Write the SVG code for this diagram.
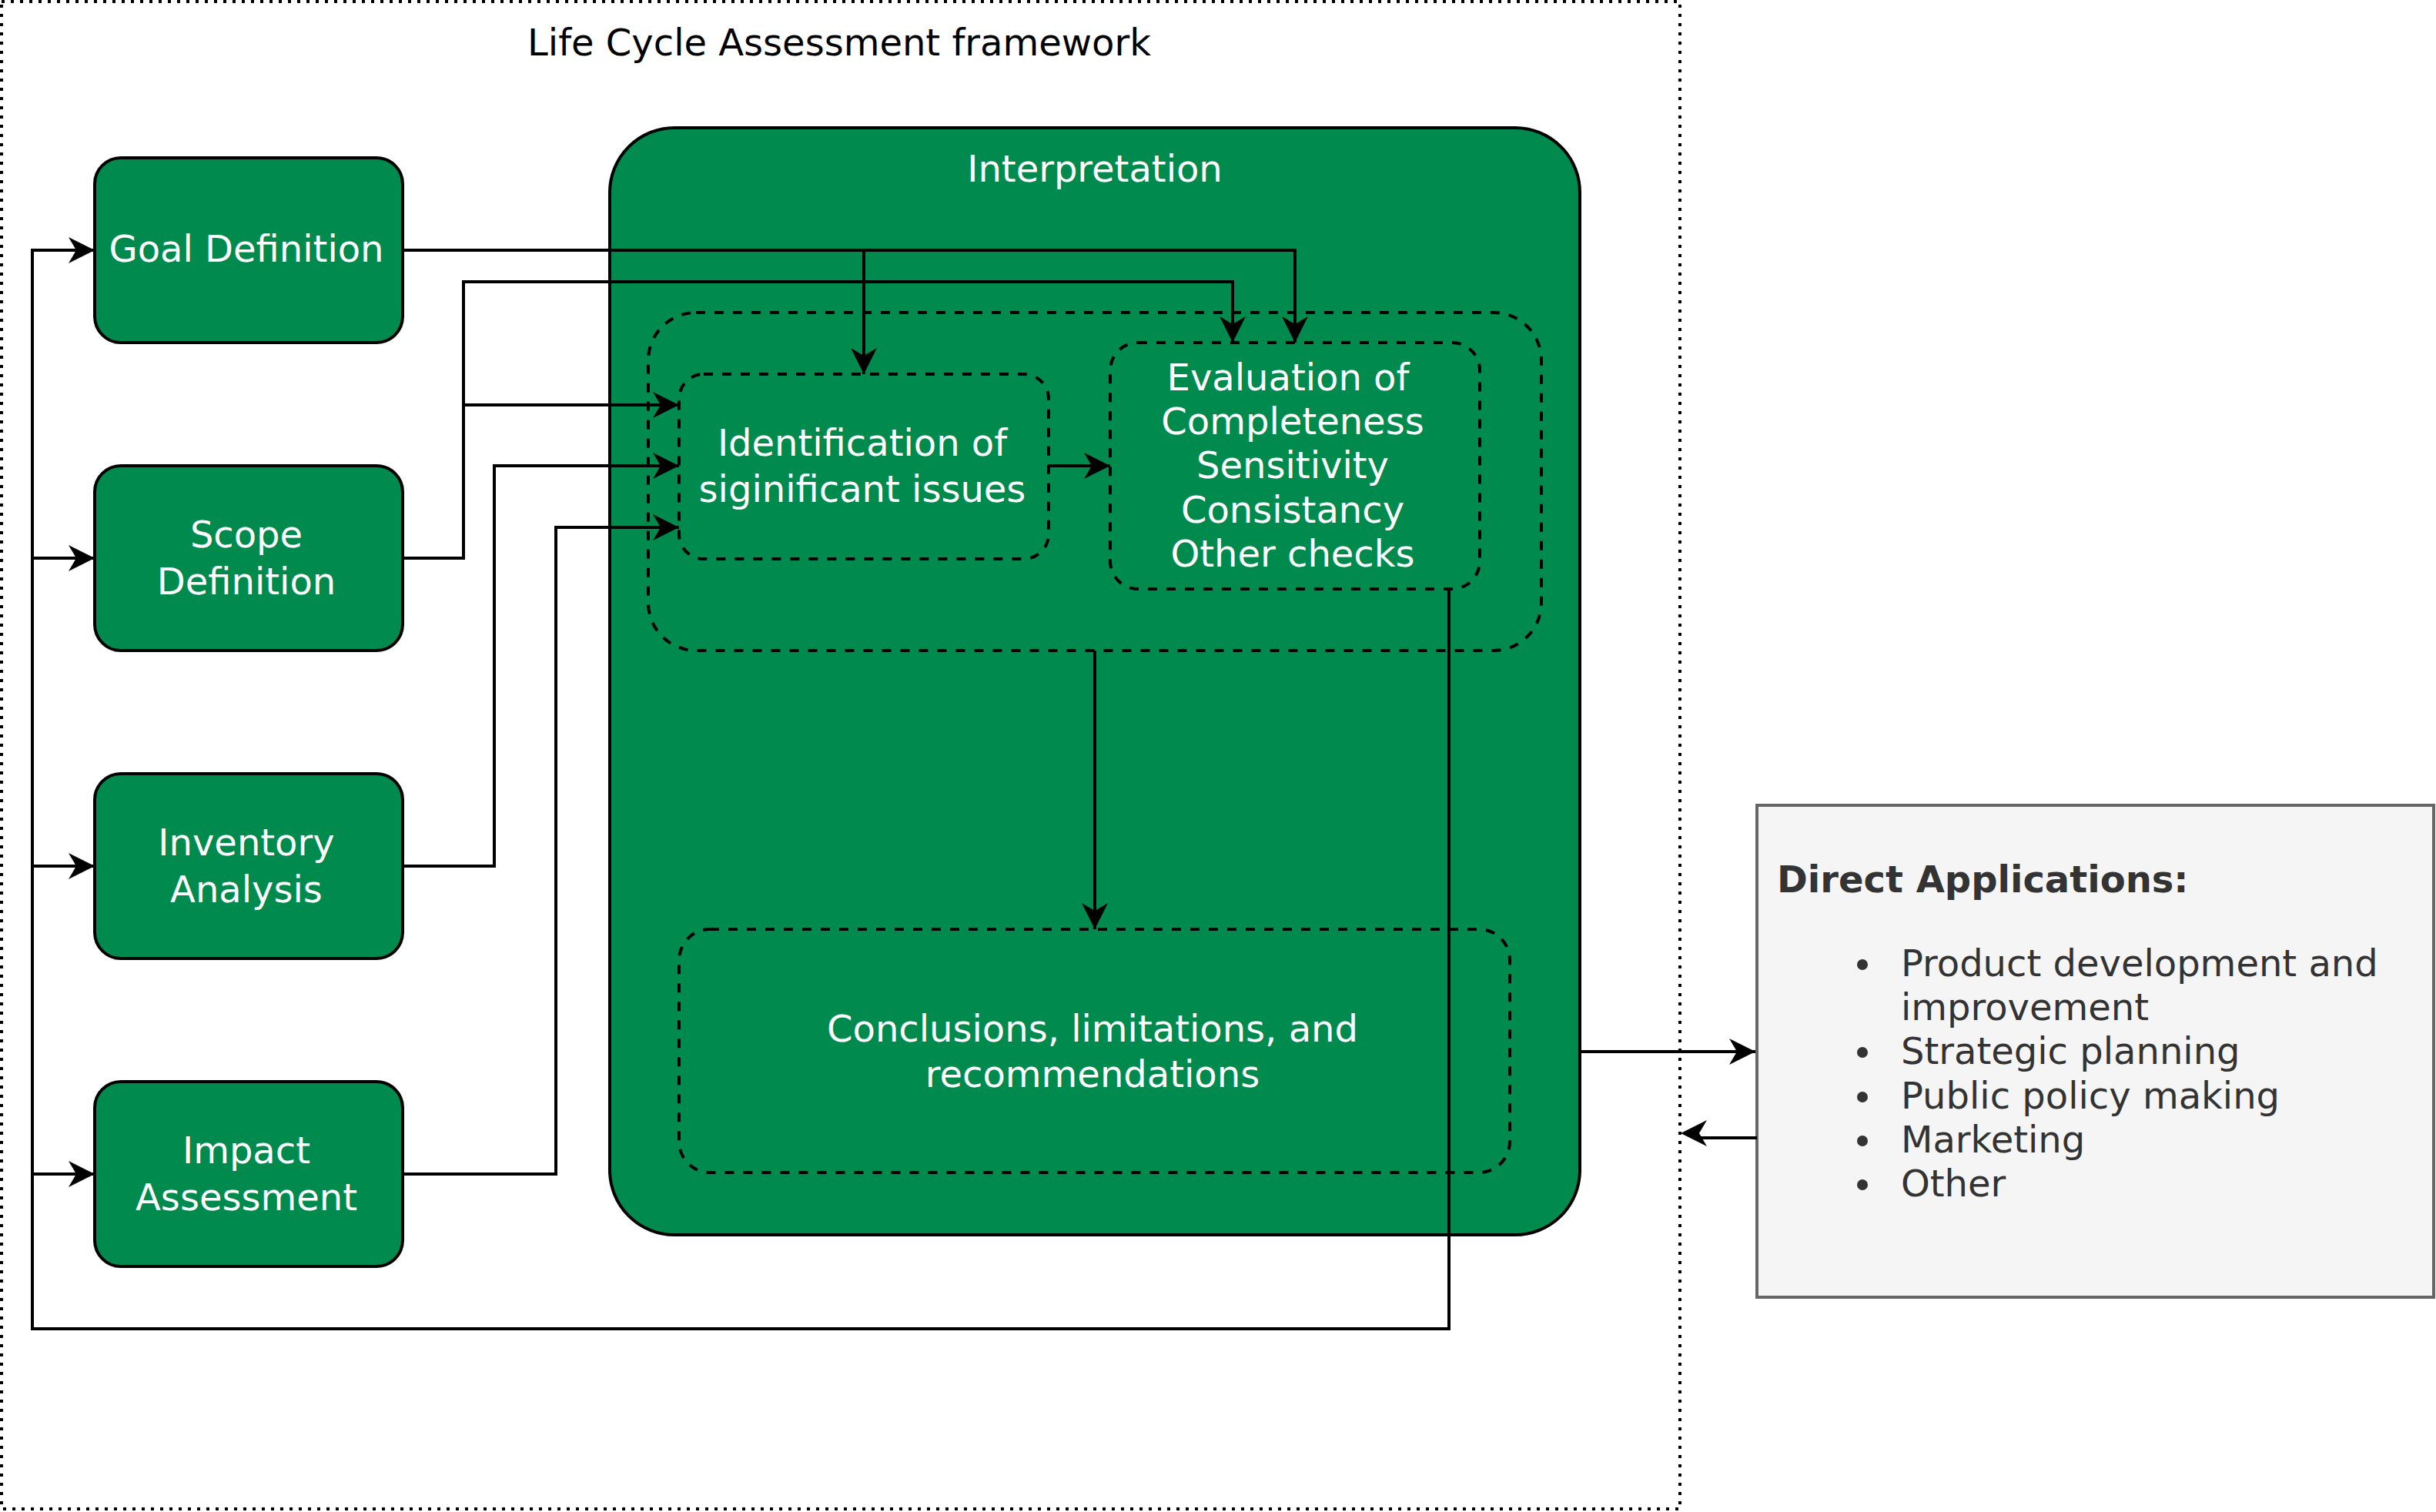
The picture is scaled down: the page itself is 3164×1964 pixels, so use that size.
<svg xmlns="http://www.w3.org/2000/svg" width="3164" height="1964" viewBox="0 0 3164 1964">
<style>
.box{fill:#008a4e;stroke:#000;stroke-width:4}
.dash{fill:none;stroke:#000;stroke-width:4;stroke-dasharray:12 12}
.t{font-family:"DejaVu Sans",Verdana,sans-serif;font-size:48px;fill:#fff;text-anchor:middle;dominant-baseline:central}
.tb{font-family:"DejaVu Sans",Verdana,sans-serif;font-size:48px;fill:#000;text-anchor:middle;dominant-baseline:central}
.da{font-family:"DejaVu Sans",Verdana,sans-serif;font-size:48px;fill:#333;dominant-baseline:central}
.c{fill:none;stroke:#000;stroke-width:4}
</style>
<defs>
<marker id="arr" markerUnits="userSpaceOnUse" markerWidth="40" markerHeight="40" viewBox="-36 -20 40 40" refX="0" refY="0" orient="auto">
<path d="M0,0 L-34,-17 L-24,0 L-34,17 Z" fill="#000"/>
</marker>
</defs>
<rect width="3164" height="1964" fill="#fff"/>
<g id="frame">
<rect x="2" y="2" width="2180" height="1958" fill="none" stroke="#000" stroke-width="4" stroke-dasharray="4 8"/>
<text class="tb" x="1090" y="55">Life Cycle Assessment framework</text>
</g>
<g id="goal">
<rect class="box" x="123" y="205" width="400" height="240" rx="34"/>
<text class="t" x="320" y="323">Goal Definition</text>
</g>
<g id="scope">
<rect class="box" x="123" y="605" width="400" height="240" rx="34"/>
<text class="t" x="320" y="694">Scope</text>
<text class="t" x="320" y="755">Definition</text>
</g>
<g id="inventory">
<rect class="box" x="123" y="1005" width="400" height="240" rx="34"/>
<text class="t" x="320" y="1094">Inventory</text>
<text class="t" x="320" y="1155">Analysis</text>
</g>
<g id="impact">
<rect class="box" x="123" y="1405" width="400" height="240" rx="34"/>
<text class="t" x="320" y="1494">Impact</text>
<text class="t" x="320" y="1555">Assessment</text>
</g>
<g id="interpretation">
<rect class="box" x="792" y="166" width="1260" height="1438" rx="84"/>
<text class="t" x="1422" y="219">Interpretation</text>
</g>
<g id="checkgroup">
<rect class="dash" x="842" y="406" width="1160" height="439" rx="62"/>
</g>
<g id="identification">
<rect class="dash" x="882" y="486" width="480" height="240" rx="32"/>
<text class="t" x="1120" y="575">Identification of</text>
<text class="t" x="1120" y="635">siginificant issues</text>
</g>
<g id="evaluation">
<rect class="dash" x="1442" y="445" width="480" height="320" rx="36"/>
<text class="t" x="1673" y="490">Evaluation of</text>
<text class="t" x="1679" y="547">Completeness</text>
<text class="t" x="1679" y="604">Sensitivity</text>
<text class="t" x="1679" y="662">Consistancy</text>
<text class="t" x="1679" y="719">Other checks</text>
</g>
<g id="conclusions">
<rect class="dash" x="882" y="1207" width="1079" height="316" rx="40"/>
<text class="t" x="1419" y="1336">Conclusions, limitations, and</text>
<text class="t" x="1419" y="1395">recommendations</text>
</g>
<g id="applications">
<rect x="2282" y="1046" width="879" height="639" fill="#f5f5f5" stroke="#666" stroke-width="4"/>
<text class="da" x="2308" y="1142" font-weight="bold">Direct Applications:</text>
<circle cx="2419" cy="1253" r="7" fill="#333"/>
<circle cx="2419" cy="1367" r="7" fill="#333"/>
<circle cx="2419" cy="1425" r="7" fill="#333"/>
<circle cx="2419" cy="1482" r="7" fill="#333"/>
<circle cx="2419" cy="1539" r="7" fill="#333"/>
<text class="da" x="2469" y="1251">Product development and</text>
<text class="da" x="2469" y="1308">improvement</text>
<text class="da" x="2469" y="1365">Strategic planning</text>
<text class="da" x="2469" y="1423">Public policy making</text>
<text class="da" x="2469" y="1480">Marketing</text>
<text class="da" x="2469" y="1537">Other</text>
</g>
<g id="connectors">
<path class="c" d="M523,325 H1682 V445" marker-end="url(#arr)"/>
<path class="c" d="M1122,325 V486" marker-end="url(#arr)"/>
<path class="c" d="M523,725 H602 V366 H1601 V445" marker-end="url(#arr)"/>
<path class="c" d="M602,526 H882" marker-end="url(#arr)"/>
<path class="c" d="M523,1125 H642 V605 H882" marker-end="url(#arr)"/>
<path class="c" d="M523,1525 H722 V685 H882" marker-end="url(#arr)"/>
<path class="c" d="M1362,605 H1442" marker-end="url(#arr)"/>
<path class="c" d="M1422,845 V1207" marker-end="url(#arr)"/>
<path class="c" d="M1882,765 V1726 H42 V325 H123" marker-end="url(#arr)"/>
<path class="c" d="M42,725 H123" marker-end="url(#arr)"/>
<path class="c" d="M42,1125 H123" marker-end="url(#arr)"/>
<path class="c" d="M42,1525 H123" marker-end="url(#arr)"/>
<path class="c" d="M2052,1366 H2280" marker-end="url(#arr)"/>
<path class="c" d="M2282,1478 H2208"/>
<path d="M2183,1472 L2217,1455 L2207,1472 L2217,1489 Z" fill="#000"/>
</g>
</svg>
